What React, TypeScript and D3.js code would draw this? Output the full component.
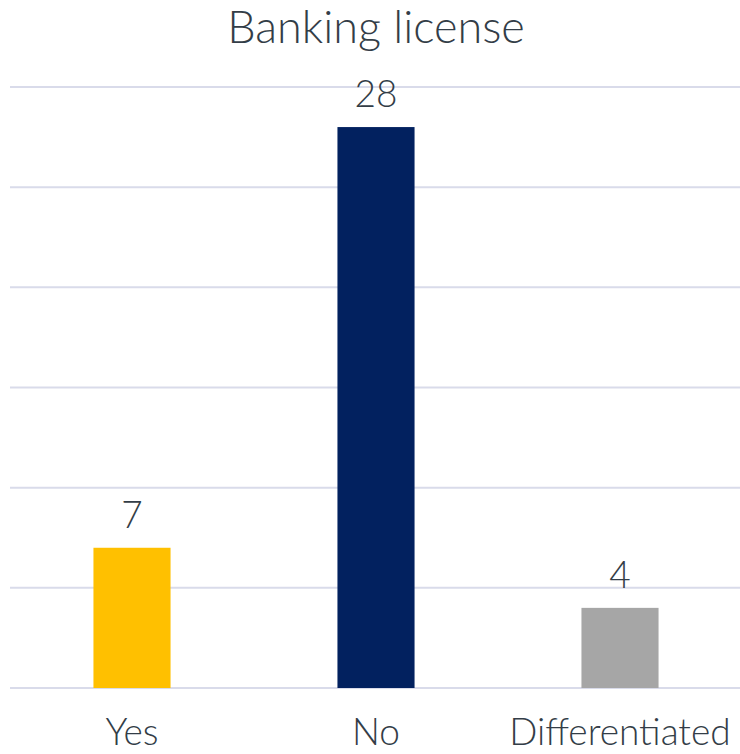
import React from "react";
import * as d3 from "d3";

const categories = ["Yes", "No", "Differentiated"];
const values = [7, 28, 4];
const colors = ["#FFC000", "#02215F", "#A6A6A6"];
const yTicks = [0, 5, 10, 15, 20, 25, 30];
const title = "Banking license";

export default function App() {
  const W = 740, H = 754;
  const x = d3.scaleBand<string>().domain(categories).range([10, 742]).paddingInner(0.684).paddingOuter(0.342);
  const y = d3.scaleLinear().domain([0, 30]).range([688, 87]);
  const font = "Lato, 'Open Sans', sans-serif";
  const textColor = "#333D47";
  return (
    <svg width={W} height={H} style={{ position: "absolute", left: 0, top: 0, background: "#fff" }}>
      <text x={376} y={43} textAnchor="middle" fontFamily={font} fontWeight={300} fontSize={45} fill={textColor}>{title}</text>
      {yTicks.map((t) => (
        <line key={t} x1={10} x2={740} y1={y(t)} y2={y(t)} stroke="#D9DBEA" strokeWidth={2} />
      ))}
      {categories.map((c, i) => (
        <g key={c}>
          <rect x={x(c)} y={y(values[i])} width={x.bandwidth()} height={y(0) - y(values[i])} fill={colors[i]} />
          <text x={(x(c) as number) + x.bandwidth() / 2} y={y(values[i]) - 20} textAnchor="middle" fontFamily={font} fontWeight={300} fontSize={37} fill={textColor}>{values[i]}</text>
          <text x={(x(c) as number) + x.bandwidth() / 2} y={745} textAnchor="middle" fontFamily={font} fontWeight={300} fontSize={37} fill={textColor}>{c}</text>
        </g>
      ))}
    </svg>
  );
}
